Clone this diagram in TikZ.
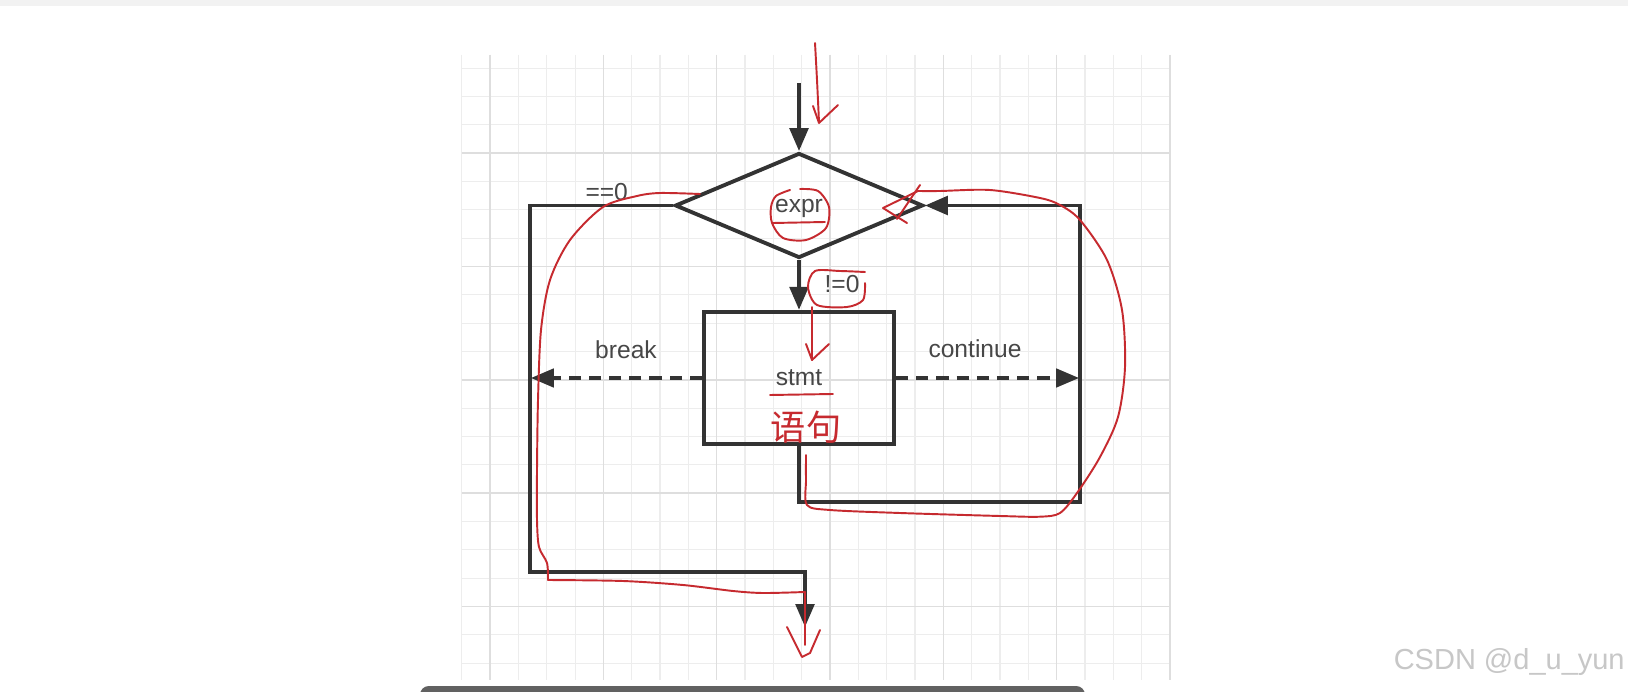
\documentclass[tikz,border=0pt]{standalone}
\usepackage{fontspec}
\setmainfont{Liberation Sans}
\newfontfamily\cjkfont{Noto Sans CJK SC}
\usetikzlibrary{shapes.geometric,arrows.meta}

\definecolor{flowline}{HTML}{333333}
\definecolor{gridminor}{HTML}{EDEDED}
\definecolor{gridmajor}{HTML}{DEDEDE}
\definecolor{inkred}{HTML}{C62A2F}
\definecolor{labelgray}{HTML}{474747}

\tikzset{
  flow/.style={draw=flowline, line width=2.2pt},
  flowarrow/.style={flow, -{Triangle[length=13pt,width=10.5pt]}},
  jump/.style={flowarrow, line width=1.9pt, dash pattern=on 7pt off 4.5pt},
  tag/.style={text=labelgray, font=\fontsize{14}{16}\selectfont, inner sep=0pt},
  decision/.style={flow, tag, text depth=0pt, shape=diamond, minimum width=4.96cm, minimum height=2.1cm},
  process/.style={flow, tag, shape=rectangle, minimum width=3.8cm, minimum height=2.65cm},
  ink/.style={draw=inkred, line width=1.1pt, line cap=round, line join=round},
}

\begin{document}
\begin{tikzpicture}[x=0.02cm,y=-0.02cm]
\useasboundingbox (0,0) rectangle (1628,692);
\fill[white] (0,0) rectangle (1628,692);
\fill[black!5] (0,0) rectangle (1628,6);

% grid paper
\foreach \k in {0,...,25}
  \draw[gridminor, line width=0.6pt] ({461.7+28.33*\k},55) -- ({461.7+28.33*\k},680);
\foreach \k in {0,...,21}
  \draw[gridminor, line width=0.6pt] (461.7,{68.3+28.33*\k}) -- (1170,{68.3+28.33*\k});
\foreach \k in {1,5,...,25}
  \draw[gridmajor, line width=0.9pt] ({461.7+28.33*\k},55) -- ({461.7+28.33*\k},680);
\foreach \k in {3,7,...,19}
  \draw[gridmajor, line width=0.9pt] (461.7,{68.3+28.33*\k}) -- (1170,{68.3+28.33*\k});

% flowchart
\node[decision] (expr) at (799,205.5) {expr};
\node[process] (stmt) at (799,378) {stmt};

\coordinate (entry) at (799,83);
\coordinate (exitcorner) at (530,205.5);
\coordinate (exitlow) at (530,571.7);
\coordinate (exitturn) at (805,571.7);
\coordinate (exit) at (805,627);
\coordinate (loopdown) at (799,501.7);
\coordinate (loopright) at (1080,501.7);
\coordinate (looptop) at (1080,205.5);
\coordinate (breakend) at (531,378);
\coordinate (continueend) at (1079,378);

\draw[flowarrow] (entry) -- (expr.north);
\draw[flowarrow] (expr.south) -- (stmt.north);
\draw[flowarrow] (expr.west) -- (exitcorner) -- (exitlow) -- (exitturn) -- (exit);
\draw[flowarrow] (stmt.south) -- (loopdown) -- (loopright) -- (looptop) -- (expr.east);
\draw[jump] (stmt.west) -- (breakend);
\draw[jump] (stmt.east) -- (continueend);

\node[tag] (eqzero) at (606.7,191.7) {==0};
\node[tag] (nezero) at (842,284) {!=0};
\node[tag] (breaklbl) at (626,350) {break};
\node[tag] (contlbl) at (975,349) {continue};

% red pen marks
\draw[ink] plot[smooth] coordinates {(815,43) (817,80) (819,122)};
\draw[ink] (813,106) -- (819,123) -- (838,105);
\draw[ink] plot[smooth] coordinates {(790,190) (776,196) (771,207) (772,223) (783,238) (806,240) (826,228) (829,207) (818,191) (800,189)};
\draw[ink] (773,223) -- (825,222);
\draw[ink] plot[smooth] coordinates {(865,272) (840,271) (815,271) (808,287) (817,305) (847,307) (863,300) (865,283)};
\draw[ink] (812,307) -- (812,360);
\draw[ink] (806,344) -- (812,360) -- (829,344);
\draw[ink] (770,395) -- (833,394);
\node[text=inkred, font=\cjkfont\fontsize{20}{22}\selectfont, inner sep=0pt] (yuju) at (806,427) {语句};

\draw[ink] plot[smooth] coordinates {(700,194) (660,193) (637,196) (603,207) (570,240) (550,280) (541,330) (538,400) (537,470) (537,520) (539,547) (547,563) (548,580)};
\draw[ink] plot[smooth] coordinates {(548,580) (623,581) (683,585) (733,591) (763,593) (805,592)};
\draw[ink] (805,592) -- (805,645);
\draw[ink] (787,627) -- (802,657) -- (810,653) -- (820,630);

\draw[ink] plot[smooth] coordinates {(806,455) (806,480) (807,505) (830,510) (900,513) (1000,516) (1040,516.7) (1060,513) (1077,493) (1100,457) (1118,417) (1125,367) (1122,310) (1107,260) (1080,220) (1060,205) (1040,198) (990,190) (940,191) (918,191)};
\draw[ink] (918,191) -- (883,208) -- (907,223);
\draw[ink] (920,185) -- (897,219);

% screen chrome
\fill[black!62] (420,692) [rounded corners=5pt] -- (420,686) -- (1085,686) [sharp corners] -- (1085,692) -- cycle;
\node[text=black!22, font=\fontsize{16.5}{18}\selectfont, anchor=east, inner sep=0pt] (mark) at (1625,662) {CSDN @d\_u\_yun};
\end{tikzpicture}
\end{document}
